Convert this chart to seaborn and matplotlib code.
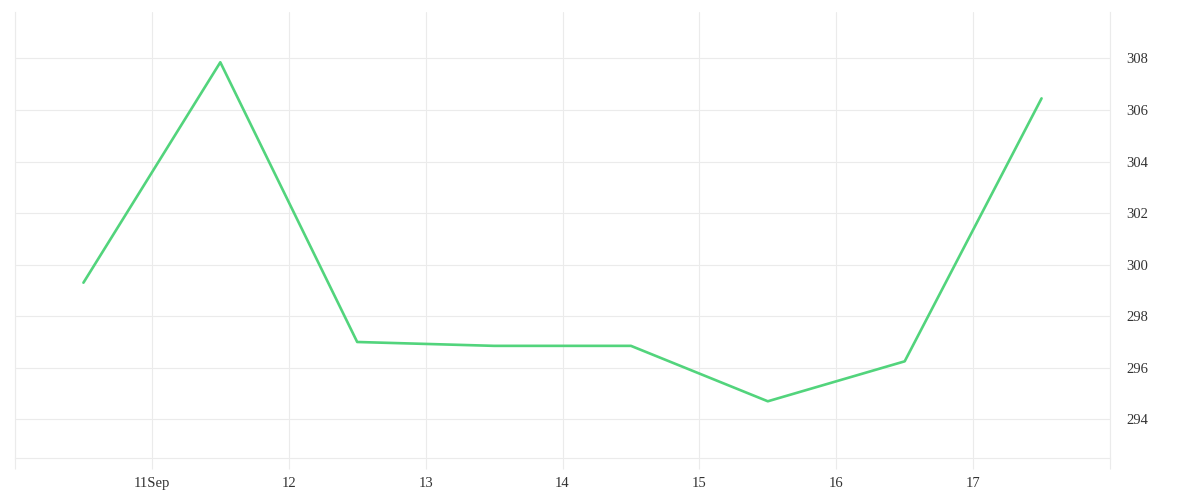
import matplotlib
matplotlib.use("Agg")
import matplotlib.pyplot as plt
import seaborn as sns
import pandas as pd

# Data
timestamps = ["2023-09-10 12:00", "2023-09-11 12:00", "2023-09-12 12:00", "2023-09-13 12:00",
              "2023-09-14 12:00", "2023-09-15 12:00", "2023-09-16 12:00", "2023-09-17 12:00"]
values = [299.3, 307.85, 297.0, 296.85, 296.85, 294.7, 296.25, 306.45]
y_ticks = [294, 296, 298, 300, 302, 304, 306, 308]
x_tick_days = ["2023-09-10", "2023-09-11", "2023-09-12", "2023-09-13", "2023-09-14",
               "2023-09-15", "2023-09-16", "2023-09-17", "2023-09-18"]
x_tick_labels = ["", "11Sep", "12", "13", "14", "15", "16", "17", ""]

df = pd.DataFrame({"t": pd.to_datetime(timestamps), "v": values})

sns.set_theme(style="white")
plt.rcParams["font.family"] = ["Liberation Serif", "DejaVu Serif"]

fig = plt.figure(figsize=(12, 5), dpi=100)
ax = fig.add_axes([0.0125, 0.084, 0.9125, 0.892])

sns.lineplot(data=df, x="t", y="v", ax=ax, color="#52d47c", linewidth=1.9)

grid_c = "#ebebeb"
ax.set_xlim(pd.Timestamp("2023-09-10"), pd.Timestamp("2023-09-18"))
ax.set_ylim(292.5, 309.8)
ax.set_xticks(pd.to_datetime(x_tick_days))
ax.set_xticklabels(x_tick_labels)
ax.set_yticks(y_ticks)
ax.set_yticklabels([str(v) for v in y_ticks])

ax.yaxis.tick_right()
ax.grid(True, color=grid_c, linewidth=0.8)
ax.set_axisbelow(True)
ax.spines["top"].set_visible(False)
for s in ["bottom", "left", "right"]:
    ax.spines[s].set_visible(True)
    ax.spines[s].set_color(grid_c)
    ax.spines[s].set_linewidth(0.8)
ax.tick_params(axis="x", bottom=True, length=8, width=0.8, color=grid_c,
               labelcolor="#333333", labelsize=10.5, pad=6)
ax.tick_params(axis="y", left=False, right=False, length=0, labelcolor="#333333",
               labelsize=10.5, pad=12)
ax.set_xlabel("")
ax.set_ylabel("")

fig.savefig("out.png", dpi=100, facecolor="white")
